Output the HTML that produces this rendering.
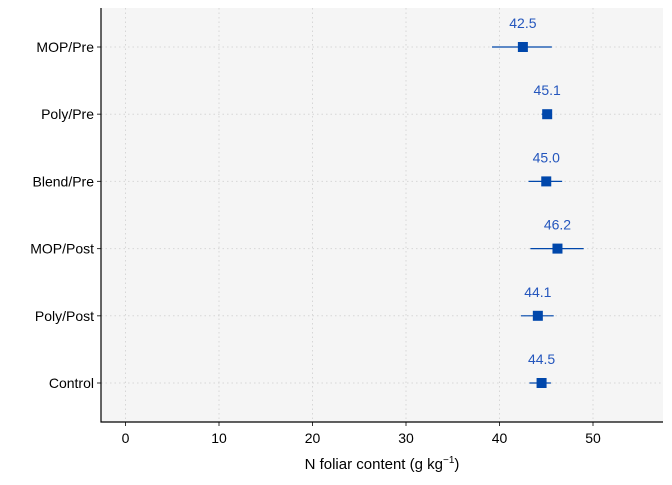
<!DOCTYPE html>
<html><head><meta charset="utf-8"><style>
body{margin:0;background:#fff;font-family:"Liberation Sans",Arial,sans-serif}
</style></head><body>
<svg id="c" width="672" height="480" xmlns="http://www.w3.org/2000/svg"></svg>
<script>
const categories=["MOP/Pre","Poly/Pre","Blend/Pre","MOP/Post","Poly/Post","Control"];
const means=[42.5,45.1,45.0,46.2,44.1,44.5];
const lows=[39.2,44.5,43.1,43.3,42.3,43.2];
const highs=[45.6,45.6,46.7,49.0,45.8,45.5];
const labels=["42.5","45.1","45.0","46.2","44.1","44.5"];
const xTicks=[0,10,20,30,40,50];
const NS="http://www.w3.org/2000/svg";
const svg=document.getElementById('c');
const L=101,R=663,T=8,B=422;
const x=v=>125.5+v*9.35;
const y=i=>47+i*67.2;
function mk(t,a,p){const e=document.createElementNS(NS,t);for(const k in a)e.setAttribute(k,a[k]);(p||svg).appendChild(e);return e;}
const bg=mk('rect',{x:L,y:T,width:R-L,height:B-T,fill:'#f5f5f5'});


xTicks.forEach(v=>{
 const g=mk('line',{x1:x(v),x2:x(v),y1:T,y2:B,stroke:'#d6d6d6','stroke-dasharray':'1.5,3'});
 
 
 const tk=mk('line',{x1:x(v),x2:x(v),y1:B,y2:B+4,stroke:'#333'});
 
 
 const t=mk('text',{x:x(v),y:B+21,'text-anchor':'middle','font-size':14,fill:'#000'});t.textContent=v;
 
 
});
categories.forEach((c,i)=>{
 const g=mk('line',{x1:L,x2:R,y1:y(i),y2:y(i),stroke:'#d6d6d6','stroke-dasharray':'1.5,3'});
 
 
 const tk=mk('line',{x1:L-4,x2:L,y1:y(i),y2:y(i),stroke:'#333'});
 
 
 const t=mk('text',{x:L-7,y:y(i)+5,'text-anchor':'end','font-size':14,fill:'#000'});t.textContent=c;
 
 
 const e=mk('line',{x1:x(lows[i]),x2:x(highs[i]),y1:y(i),y2:y(i),stroke:'#0047AB','stroke-width':1.2});
 
 
 const p=mk('rect',{x:x(means[i])-5,y:y(i)-5,width:10,height:10,fill:'#0047AB'});
 
 
 const v=mk('text',{x:x(means[i]),y:y(i)-19,'text-anchor':'middle','font-size':14,fill:'#2456bd'});v.textContent=labels[i];
 
 
});
const ax=mk('path',{d:`M${L} ${T}V${B}H${R}`,fill:'none',stroke:'#000','stroke-width':1.2});


const tt=mk('text',{x:382,y:469,'text-anchor':'middle','font-size':15,fill:'#000'});
tt.innerHTML='N foliar content (g  kg<tspan dy="-6" font-size="10">−1</tspan><tspan dy="6">)</tspan>';


</script>
</body></html>
